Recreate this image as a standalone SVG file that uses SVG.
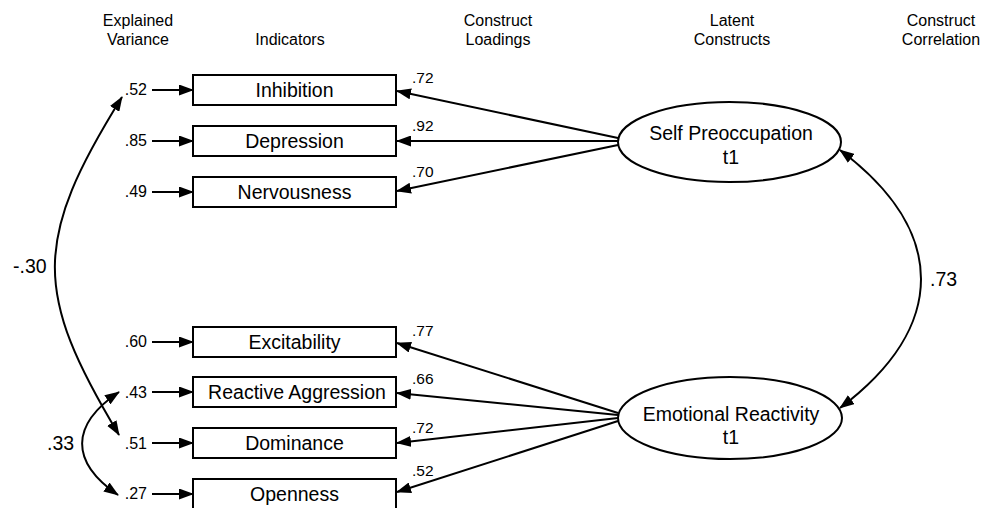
<svg xmlns="http://www.w3.org/2000/svg" width="994" height="508" viewBox="0 0 994 508">
<style>
text{font-family:"Liberation Sans",Arial,sans-serif;fill:#000}
.hd{font-size:16px;text-anchor:middle}
.bx{fill:#fff;stroke:#000;stroke-width:2}
.bt{font-size:19.5px;text-anchor:middle}
.ev{font-size:16px;text-anchor:end}
.ld{font-size:15.5px}
.cr{font-size:19.5px}
.ar{fill:none;stroke:#000;stroke-width:2;marker-end:url(#ah)}
.cv{fill:none;stroke:#000;stroke-width:2;marker-start:url(#ah);marker-end:url(#ah)}
</style>
<defs>
<marker id="ah" viewBox="0 0 15 11" refX="14" refY="5.5" markerWidth="15" markerHeight="11" markerUnits="userSpaceOnUse" orient="auto-start-reverse">
<path d="M0,0 L15,5.5 L0,11 z" fill="#000"/>
</marker>
</defs>
<g id="headers">
<text class="hd" x="138" y="26">Explained</text>
<text class="hd" x="138" y="45">Variance</text>
<text class="hd" x="290" y="45">Indicators</text>
<text class="hd" x="498" y="26">Construct</text>
<text class="hd" x="498" y="45">Loadings</text>
<text class="hd" x="732" y="26">Latent</text>
<text class="hd" x="732" y="45">Constructs</text>
<text class="hd" x="941" y="26">Construct</text>
<text class="hd" x="941" y="45">Correlation</text>
</g>
<g id="connectors">
<line class="ar" x1="152" y1="90" x2="193" y2="90"/>
<line class="ar" x1="152" y1="141" x2="193" y2="141"/>
<line class="ar" x1="152" y1="192" x2="193" y2="192"/>
<line class="ar" x1="152" y1="342" x2="193" y2="342"/>
<line class="ar" x1="152" y1="392" x2="193" y2="392"/>
<line class="ar" x1="152" y1="443" x2="193" y2="443"/>
<line class="ar" x1="152" y1="494" x2="193" y2="494"/>
<line class="ar" x1="618" y1="138" x2="397" y2="91"/>
<line class="ar" x1="618" y1="141" x2="397" y2="141"/>
<line class="ar" x1="618" y1="145" x2="397" y2="191"/>
<line class="ar" x1="618" y1="413" x2="397" y2="343"/>
<line class="ar" x1="618" y1="415" x2="397" y2="393"/>
<line class="ar" x1="618" y1="418" x2="397" y2="443"/>
<line class="ar" x1="618" y1="421" x2="397" y2="492"/>
<path class="cv" d="M122,97 C33,240 33,292 119,435"/>
<path class="cv" d="M119,392 C70,425 70,462 118,495"/>
<path class="cv" d="M840,150 C948,231 948,327 840,408"/>
</g>
<g id="variance-labels">
<text class="ev" x="147" y="95">.52</text>
<text class="ev" x="147" y="146">.85</text>
<text class="ev" x="147" y="197">.49</text>
<text class="ev" x="147" y="347">.60</text>
<text class="ev" x="147" y="398">.43</text>
<text class="ev" x="147" y="449">.51</text>
<text class="ev" x="147" y="499">.27</text>
</g>
<g id="loading-labels">
<text class="ld" x="412" y="83">.72</text>
<text class="ld" x="412" y="131">.92</text>
<text class="ld" x="412" y="177">.70</text>
<text class="ld" x="412" y="336">.77</text>
<text class="ld" x="412" y="384">.66</text>
<text class="ld" x="412" y="433">.72</text>
<text class="ld" x="412" y="476">.52</text>
</g>
<g id="correlation-labels">
<text class="cr" x="13" y="273">-.30</text>
<text class="cr" x="47" y="450">.33</text>
<text class="cr" x="930" y="286">.73</text>
</g>
<g id="inhibition"><rect class="bx" x="193" y="75" width="203" height="30"/><text class="bt" x="294.5" y="97">Inhibition</text></g>
<g id="depression"><rect class="bx" x="193" y="126" width="203" height="30"/><text class="bt" x="294.5" y="148">Depression</text></g>
<g id="nervousness"><rect class="bx" x="193" y="177" width="203" height="30"/><text class="bt" x="294.5" y="199">Nervousness</text></g>
<g id="excitability"><rect class="bx" x="193" y="327" width="203" height="30"/><text class="bt" x="294.5" y="349">Excitability</text></g>
<g id="reactive-aggression"><rect class="bx" x="193" y="377" width="203" height="30"/><text class="bt" x="297" y="399">Reactive Aggression</text></g>
<g id="dominance"><rect class="bx" x="193" y="428" width="203" height="30"/><text class="bt" x="294.5" y="450">Dominance</text></g>
<g id="openness"><rect class="bx" x="193" y="479" width="203" height="30"/><text class="bt" x="294.5" y="501">Openness</text></g>
<g id="self-preoccupation"><ellipse class="bx" cx="729.5" cy="142" rx="111.5" ry="40"/><text class="bt" x="731" y="140">Self Preoccupation</text><text class="bt" x="731" y="164">t1</text></g>
<g id="emotional-reactivity"><ellipse class="bx" cx="730" cy="418" rx="112" ry="41"/><text class="bt" x="731" y="421">Emotional Reactivity</text><text class="bt" x="731" y="444">t1</text></g>
</svg>
